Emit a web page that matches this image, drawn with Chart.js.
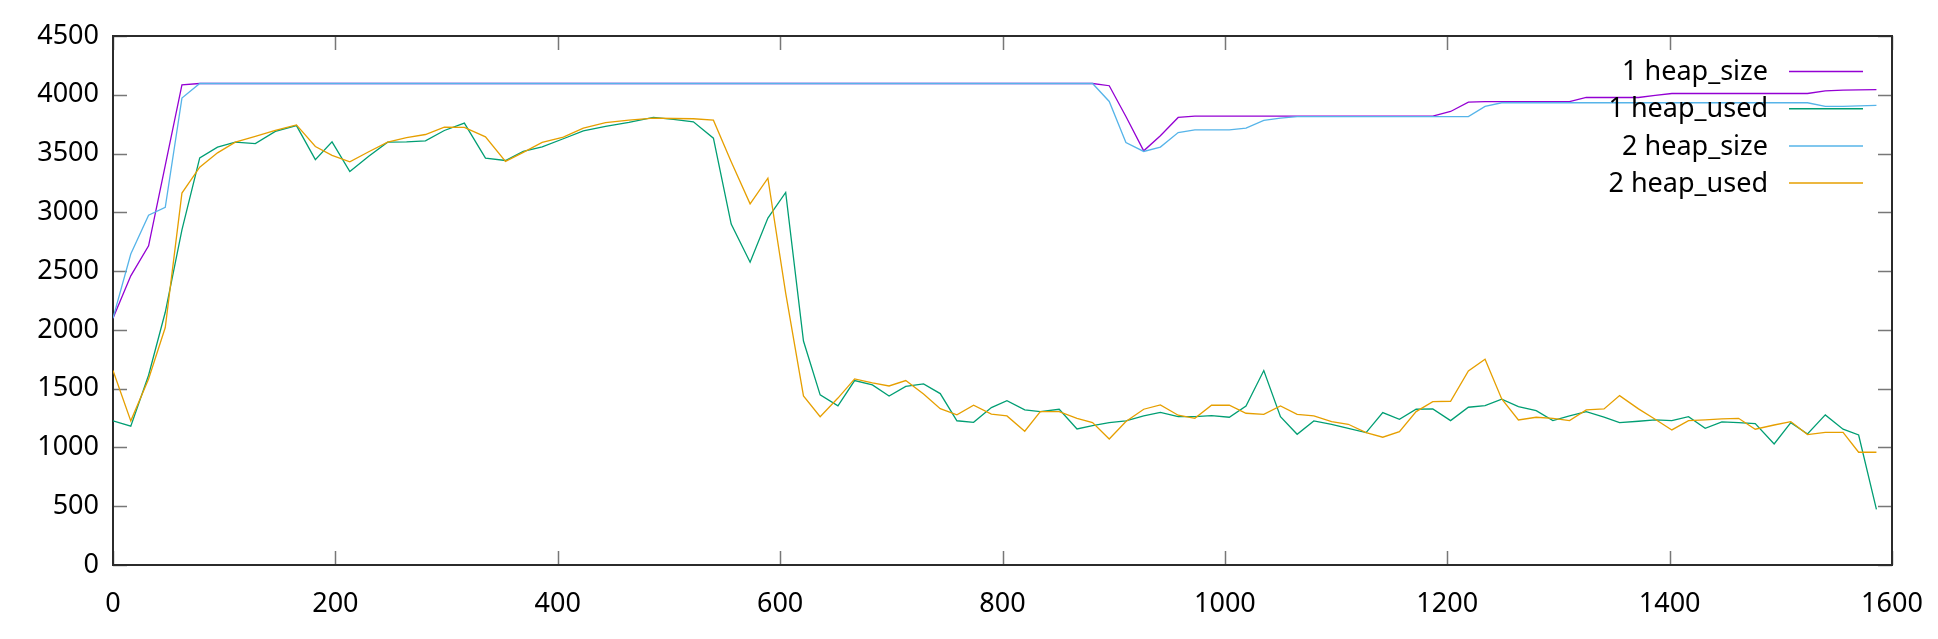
<!DOCTYPE html>
<html>
<head>
<meta charset="utf-8">
<title>heap</title>
<script src="https://cdn.jsdelivr.net/npm/chart.js@4.4.1/dist/chart.umd.min.js"></script>
<style>
  html, body { margin: 0; padding: 0; background: #fff; }
  #wrap { width: 1938px; height: 639px; }
</style>
</head>
<body>
<div id="wrap"><canvas id="heapChart" width="1938" height="639"></canvas></div>
<script>
// sample times (x) shared by all four series
const times = [0, 16, 32, 47, 62, 78, 94, 110, 128, 146,
    165, 182, 197, 213, 230, 247, 264, 281, 298, 316,
    335, 353, 369, 386, 405, 423, 443, 464, 486, 504,
    522, 540, 556, 573, 589, 605, 621, 636, 652, 667,
    683, 698, 713, 729, 744, 759, 774, 790, 804, 820,
    834, 851, 867, 881, 896, 911, 927, 942, 958, 973,
    988, 1004, 1019, 1035, 1050, 1065, 1080, 1096, 1111, 1127,
    1142, 1157, 1172, 1187, 1203, 1219, 1234, 1249, 1264, 1280,
    1295, 1310, 1325, 1341, 1355, 1372, 1387, 1402, 1417, 1432,
    1447, 1462, 1477, 1494, 1509, 1524, 1540, 1556, 1570, 1586];

const heapSize1 = [2100, 2460, 2715, 3400, 4085, 4096, 4096, 4096, 4096, 4096,
    4096, 4096, 4096, 4096, 4096, 4096, 4096, 4096, 4096, 4096,
    4096, 4096, 4096, 4096, 4096, 4096, 4096, 4096, 4096, 4096,
    4096, 4096, 4096, 4096, 4096, 4096, 4096, 4096, 4096, 4096,
    4096, 4096, 4096, 4096, 4096, 4096, 4096, 4096, 4096, 4096,
    4096, 4096, 4096, 4096, 4077, 3815, 3523, 3651, 3807, 3818,
    3818, 3818, 3818, 3818, 3818, 3818, 3818, 3818, 3818, 3818,
    3818, 3818, 3818, 3818, 3858, 3938, 3942, 3942, 3942, 3942,
    3942, 3942, 3977, 3977, 3977, 3977, 3995, 4011, 4011, 4011,
    4011, 4011, 4011, 4011, 4011, 4011, 4034, 4040, 4042, 4043];

const heapUsed1 = [1226, 1181, 1614, 2150, 2850, 3463, 3554, 3597, 3585, 3689,
    3738, 3448, 3600, 3347, 3478, 3597, 3600, 3608, 3696, 3759,
    3461, 3441, 3518, 3557, 3626, 3692, 3731, 3765, 3807, 3790,
    3770, 3631, 2900, 2576, 2951, 3169, 1905, 1447, 1354, 1569,
    1532, 1438, 1520, 1540, 1458, 1227, 1214, 1339, 1398, 1319,
    1305, 1325, 1157, 1186, 1211, 1226, 1268, 1299, 1262, 1262,
    1271, 1257, 1353, 1654, 1262, 1112, 1226, 1197, 1163, 1126,
    1296, 1240, 1325, 1328, 1228, 1342, 1356, 1410, 1347, 1313,
    1228, 1268, 1305, 1257, 1211, 1223, 1234, 1228, 1262, 1163,
    1217, 1211, 1203, 1030, 1211, 1115, 1277, 1155, 1106, 474];

const heapSize2 = [2100, 2645, 2975, 3042, 3972, 4096, 4096, 4096, 4096, 4096,
    4096, 4096, 4096, 4096, 4096, 4096, 4096, 4096, 4096, 4096,
    4096, 4096, 4096, 4096, 4096, 4096, 4096, 4096, 4096, 4096,
    4096, 4096, 4096, 4096, 4096, 4096, 4096, 4096, 4096, 4096,
    4096, 4096, 4096, 4096, 4096, 4096, 4096, 4096, 4096, 4096,
    4096, 4096, 4096, 4096, 3943, 3594, 3518, 3555, 3679, 3702,
    3702, 3702, 3716, 3782, 3801, 3815, 3815, 3815, 3815, 3815,
    3815, 3815, 3815, 3815, 3815, 3815, 3901, 3932, 3932, 3932,
    3932, 3932, 3932, 3932, 3932, 3932, 3932, 3932, 3932, 3932,
    3932, 3932, 3932, 3932, 3932, 3932, 3901, 3901, 3905, 3910];

const heapUsed2 = [1654, 1226, 1583, 2020, 3164, 3384, 3506, 3597, 3646, 3698,
    3744, 3560, 3484, 3429, 3515, 3597, 3635, 3662, 3724, 3722,
    3642, 3433, 3510, 3595, 3640, 3716, 3764, 3785, 3801, 3798,
    3796, 3784, 3430, 3072, 3291, 2312, 1438, 1262, 1420, 1583,
    1550, 1523, 1569, 1455, 1330, 1277, 1359, 1284, 1268, 1138,
    1305, 1305, 1248, 1211, 1072, 1220, 1325, 1362, 1274, 1248,
    1359, 1359, 1291, 1282, 1353, 1282, 1268, 1220, 1197, 1126,
    1087, 1135, 1305, 1390, 1393, 1651, 1751, 1413, 1234, 1257,
    1248, 1228, 1319, 1328, 1441, 1328, 1240, 1149, 1228, 1234,
    1243, 1248, 1155, 1191, 1220, 1109, 1129, 1129, 959, 959];

const xTickValues = [0, 200, 400, 600, 800, 1000, 1200, 1400, 1600];
const yTickValues = [0, 500, 1000, 1500, 2000, 2500, 3000, 3500, 4000, 4500];

const FONT = '"Noto Sans", "Open Sans", sans-serif';

function toPoints(values) {
    return values.map((v, i) => ({ x: times[i], y: v }));
}

// gnuplot style frame with inward ticks on all four sides
const frameTicks = {
    id: 'frameTicks',
    beforeDatasetsDraw(chart) {
        const { ctx, chartArea: a, scales } = chart;
        const len = 14;
        ctx.save();
        ctx.strokeStyle = '#777';
        ctx.lineWidth = 1.5;
        ctx.beginPath();
        scales.x.ticks.forEach(t => {
            const px = Math.round(scales.x.getPixelForValue(t.value)) + 0.5;
            ctx.moveTo(px, a.bottom); ctx.lineTo(px, a.bottom - len);
            ctx.moveTo(px, a.top); ctx.lineTo(px, a.top + len);
        });
        scales.y.ticks.forEach(t => {
            const py = Math.round(scales.y.getPixelForValue(t.value)) + 0.5;
            ctx.moveTo(a.left, py); ctx.lineTo(a.left + len, py);
            ctx.moveTo(a.right, py); ctx.lineTo(a.right - len, py);
        });
        ctx.stroke();
        ctx.strokeStyle = '#2b2b2b';
        ctx.lineWidth = 2;
        ctx.strokeRect(a.left, a.top, a.right - a.left, a.bottom - a.top);
        ctx.restore();
    }
};

// key in the top right corner: label text, then a line sample
const gnuKey = {
    id: 'gnuKey',
    afterDraw(chart) {
        const ctx = chart.ctx;
        const textRight = 1768;
        const lineFrom = 1789, lineTo = 1863;
        ctx.save();
        ctx.font = '27px ' + FONT;
        ctx.textAlign = 'right';
        ctx.textBaseline = 'middle';
        chart.data.datasets.forEach((ds, i) => {
            const y = 71.5 + i * 37.2;
            ctx.fillStyle = '#000';
            ctx.fillText(ds.label, textRight, y + 1);
            ctx.strokeStyle = ds.borderColor;
            ctx.lineWidth = 1.5;
            ctx.beginPath();
            ctx.moveTo(lineFrom, y);
            ctx.lineTo(lineTo, y);
            ctx.stroke();
        });
        ctx.restore();
    }
};

const lineStyle = { borderWidth: 1.3, pointRadius: 0, tension: 0, fill: false };
const plainNumber = value => String(value);

// keep the plot frame where gnuplot had it, labels may overhang
function noScalePadding(scale) {
    scale.paddingLeft = 0;
    scale.paddingRight = 0;
    scale.paddingTop = 0;
    scale.paddingBottom = 0;
}

new Chart(document.getElementById('heapChart').getContext('2d'), {
    type: 'line',
    data: {
        datasets: [
            { label: '1 heap_size', data: toPoints(heapSize1), borderColor: '#9400d3', order: 4, ...lineStyle },
            { label: '1 heap_used', data: toPoints(heapUsed1), borderColor: '#009e73', order: 3, ...lineStyle },
            { label: '2 heap_size', data: toPoints(heapSize2), borderColor: '#56b4e9', order: 2, ...lineStyle },
            { label: '2 heap_used', data: toPoints(heapUsed2), borderColor: '#e69f00', order: 1, ...lineStyle }
        ]
    },
    options: {
        responsive: false,
        animation: false,
        devicePixelRatio: 1,
        layout: {
            autoPadding: false,
            padding: { top: 36, right: 46, bottom: 0, left: 0 }
        },
        plugins: {
            legend: { display: false },
            tooltip: { enabled: false },
            title: { display: false }
        },
        scales: {
            x: {
                type: 'linear',
                min: 0,
                max: 1600,
                afterBuildTicks: scale => { scale.ticks = xTickValues.map(v => ({ value: v })); },
                afterFit: scale => { scale.height = 74; noScalePadding(scale); },
                grid: { display: false, drawTicks: false },
                border: { display: false },
                ticks: {
                    padding: 23,
                    maxRotation: 0,
                    autoSkip: false,
                    color: '#000',
                    callback: plainNumber,
                    font: { family: FONT, size: 27 }
                }
            },
            y: {
                min: 0,
                max: 4500,
                afterBuildTicks: scale => { scale.ticks = yTickValues.map(v => ({ value: v })); },
                afterFit: scale => { scale.width = 113; noScalePadding(scale); },
                grid: { display: false, drawTicks: false },
                border: { display: false },
                ticks: {
                    padding: 14,
                    color: '#000',
                    callback: plainNumber,
                    font: { family: FONT, size: 27 }
                }
            }
        }
    },
    plugins: [frameTicks, gnuKey]
});
</script>
</body>
</html>
